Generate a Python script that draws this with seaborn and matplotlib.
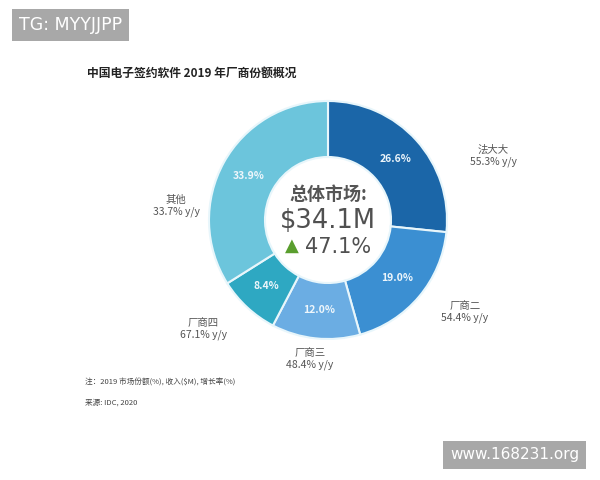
import matplotlib
matplotlib.use('Agg')
import matplotlib.pyplot as plt
import seaborn as sns

# --- DATA ---
vendors = ['法大大', '厂商二', '厂商三', '厂商四', '其他']
share = [26.6, 19.0, 12.0, 8.4, 33.9]
growth = [55.3, 54.4, 48.4, 67.1, 33.7]
colors = ['#1b66a8', '#3b8fd2', '#6badE3', '#2ea8c2', '#6cc5dc']
total_rev = '$34.1M'
total_growth = '47.1%'

# label anchor positions (pixel coords, y from top)
label_pos = [(493, 156), (465, 312), (310, 359), (203, 329), (176, 206)]

sns.set_theme(style='white')
plt.rcParams['font.family'] = ['Noto Sans CJK SC', 'DejaVu Sans']

fig = plt.figure(figsize=(6, 4.8), dpi=100)
ax = fig.add_axes([0, 0, 1, 1])

cx, cy, r = 328, 480 - 220, 119

wedges, _, autotexts = ax.pie(
    share, colors=colors, startangle=90, counterclock=False,
    center=(cx, cy), radius=r, autopct=lambda p: f'{p:.1f}%',
    pctdistance=0.76, frame=True,
    wedgeprops=dict(width=56, edgecolor='#e8f6fb', linewidth=1.5),
    textprops=dict(color='#eef6fb', fontsize=7.5, fontweight='bold'))
ax.set_xlim(0, 600)
ax.set_ylim(0, 480)
ax.set_aspect('equal')
ax.axis('off')

for (x, y), name, g in zip(label_pos, vendors, growth):
    ax.text(x, 480 - y, f'{name}\n{g}% y/y', ha='center', va='center',
            fontsize=7.5, color='#555555', linespacing=1.2)

# center text
ax.text(cx, 480 - 194, '总体市场:', ha='center', va='center', fontsize=13,
        color='#555555', fontweight='bold')
ax.text(cx, 480 - 221, total_rev, ha='center', va='center', fontsize=18.5,
        color='#505050', family='DejaVu Sans')
ax.text(cx + 10, 480 - 247, total_growth, ha='center', va='center', fontsize=15,
        color='#505050', family='DejaVu Sans')
ax.text(cx - 36, 480 - 246, '▲', ha='center', va='center', fontsize=13,
        color='#5a9e2e', family='DejaVu Sans')

# title and notes
ax.text(87, 480 - 73, '中国电子签约软件 2019 年厂商份额概况', ha='left', va='center',
        fontsize=8.5, fontweight='bold', color='#222222')
ax.text(85, 480 - 383, '注：2019 市场份额(%), 收入($M), 增长率(%)', ha='left',
        va='center', fontsize=5.5, color='#444444')
ax.text(85, 480 - 403, '来源: IDC, 2020', ha='left', va='center',
        fontsize=5.5, color='#444444')

# watermarks
ax.text(19, 480 - 25, 'TG: MYYJJPP', ha='left', va='center', fontsize=12.5,
        color='white', family='DejaVu Sans',
        bbox=dict(boxstyle='square,pad=0.4', fc='#a8a8a8', ec='none'))
ax.text(450, 480 - 455, 'www.168231.org', ha='left', va='center', fontsize=11,
        color='white', family='DejaVu Sans',
        bbox=dict(boxstyle='square,pad=0.45', fc='#a8a8a8', ec='none'))

fig.savefig('out.png', dpi=100)
